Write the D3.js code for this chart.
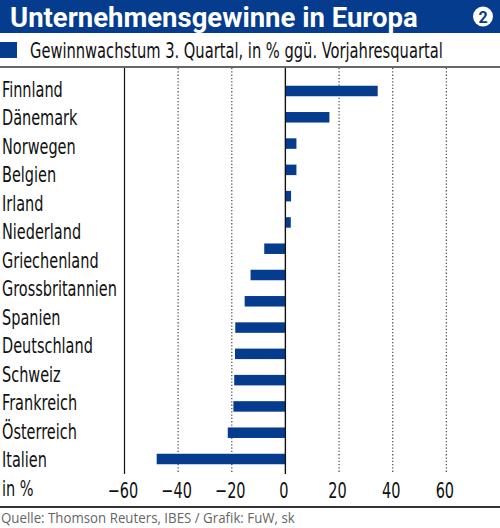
<!DOCTYPE html>
<html>
<head>
<meta charset="utf-8">
<script src="https://cdn.jsdelivr.net/npm/d3@7"></script>
<style>
  html, body { margin: 0; padding: 0; background: #fff; }
  svg { display: block; }
  .cond { font-family: "DejaVu Sans Condensed", "Liberation Sans Narrow", sans-serif; }
</style>
</head>
<body>
<svg id="chart" width="500" height="528"></svg>
<script>
// country labels as printed in the left column (the source shows 15 bars but 14 names)
var countries = ["Finnland", "Dänemark", "Norwegen", "Belgien", "Irland", "Niederland",
  "Griechenland", "Grossbritannien", "Spanien", "Deutschland", "Schweiz", "Frankreich",
  "Österreich", "Italien"];
// bar values, top to bottom, profit growth Q3 in % vs. previous year
var growth = [34.4, 16.4, 4.1, 4.1, 2.1, 2.0, -7.9, -13.0, -15.2, -18.7, -18.8, -19.1, -19.4, -21.5, -48.0];
var tickValues = [-60, -40, -20, 0, 20, 40, 60];
var solidTicks = [-60, 0];

var title = "Unternehmensgewinne in Europa";
var legendText = "Gewinnwachstum 3. Quartal, in % ggü. Vorjahresquartal";
var unitText = "in %";
var sourceText = "Quelle: Thomson Reuters, IBES / Grafik: FuW, sk";

var blue = "#053c8d";
var svg = d3.select("#chart");
var W = 500;

// squeeze a text horizontally so it spans the given width, anchored at (x, y)
function fit(sel, x, y, width) {
  var w = sel.node().getComputedTextLength();
  var k = Math.min(1, width / w);
  sel.attr("x", 0).attr("y", 0)
    .attr("transform", "translate(" + x + "," + y + ") scale(" + k + ",1)");
  return k;
}

// header band
svg.append("rect").attr("x", 0).attr("y", 0).attr("width", W).attr("height", 33).attr("fill", blue);
var t = svg.append("text")
  .attr("fill", "#fff")
  .attr("font-family", "Roboto, 'DejaVu Sans', sans-serif")
  .attr("font-weight", "bold")
  .attr("font-size", 27.5)
  .text(title);
fit(t, 10, 26.5, 425);
svg.append("circle").attr("cx", 483).attr("cy", 16.5).attr("r", 10).attr("fill", "#fff");
svg.append("text")
  .attr("x", 483).attr("y", 22.5)
  .attr("text-anchor", "middle")
  .attr("fill", blue)
  .attr("font-family", "Roboto, 'DejaVu Sans', sans-serif")
  .attr("font-weight", "bold")
  .attr("font-size", 16)
  .text("2");

// legend
svg.append("rect").attr("x", 0).attr("y", 42).attr("width", 17).attr("height", 16).attr("fill", blue);
var lg = svg.append("text").attr("class", "cond")
  .attr("font-size", 21)
  .attr("fill", "#111")
  .text(legendText);
fit(lg, 30, 58, 413);

// frame lines
svg.append("line").attr("x1", 0).attr("x2", W).attr("y1", 67).attr("y2", 67)
  .attr("stroke", "#333").attr("stroke-width", 1.5);
svg.append("line").attr("x1", 0).attr("x2", W).attr("y1", 507).attr("y2", 507)
  .attr("stroke", "#333").attr("stroke-width", 2);

// scales
var x = d3.scaleLinear().domain([-60, 80]).range([124.5, 500]);
var yBar = d3.scalePoint().domain(d3.range(growth.length)).range([91, 459]);
var yLabel = d3.scalePoint().domain(countries.concat([unitText])).range([89, 488]);
var barH = 10.5;

// grid
var g = svg.append("g");
g.selectAll("line.grid")
  .data(tickValues)
  .enter().append("line")
  .attr("class", "grid")
  .attr("x1", function (d) { return x(d); })
  .attr("x2", function (d) { return x(d); })
  .attr("y1", 68).attr("y2", 474)
  .attr("stroke", function (d) { return solidTicks.indexOf(d) >= 0 ? "#111" : "#555"; })
  .attr("stroke-width", function (d) { return solidTicks.indexOf(d) >= 0 ? 1.2 : 1.3; })
  .attr("stroke-dasharray", function (d) { return solidTicks.indexOf(d) >= 0 ? null : "1.3,2"; });

// bars
g.selectAll("rect.bar")
  .data(growth)
  .enter().append("rect")
  .attr("class", "bar")
  .attr("x", function (d) { return x(Math.min(0, d)); })
  .attr("width", function (d) { return Math.abs(x(d) - x(0)); })
  .attr("y", function (d, i) { return yBar(i) - barH / 2; })
  .attr("height", barH)
  .attr("fill", blue);

// zero line on top of bars
g.append("line")
  .attr("x1", x(0)).attr("x2", x(0)).attr("y1", 68).attr("y2", 474)
  .attr("stroke", "#111").attr("stroke-width", 1.2);

// country labels, squeezed to the narrow face of the original
var labs = svg.selectAll("text.lab")
  .data(yLabel.domain())
  .enter().append("text")
  .attr("class", "lab cond")
  .attr("dy", "0.36em")
  .attr("font-size", 21)
  .attr("fill", "#111")
  .text(function (d) { return d; });
var longest = labs.filter(function (d) { return d === "Grossbritannien"; });
var k = Math.min(1, 115 / longest.node().getComputedTextLength());
labs.attr("transform", function (d) { return "translate(2," + yLabel(d) + ") scale(" + k + ",1)"; });

// x axis tick labels
var axis = d3.axisBottom(x).tickValues(tickValues).tickSize(0).tickPadding(0);
var ax = svg.append("g").attr("transform", "translate(-2,482)").call(axis);
ax.select(".domain").remove();
ax.selectAll("text")
  .attr("class", "cond")
  .attr("font-size", 21)
  .attr("fill", "#111")
  .attr("dy", "0.75em")
  .attr("transform", "scale(" + k + ",1)");

// source
var src = svg.append("text")
  .attr("font-family", "'Open Sans', 'DejaVu Sans', sans-serif")
  .attr("font-size", 14)
  .attr("fill", "#666")
  .text(sourceText);
fit(src, 1, 523, 294);
</script>
</body>
</html>
